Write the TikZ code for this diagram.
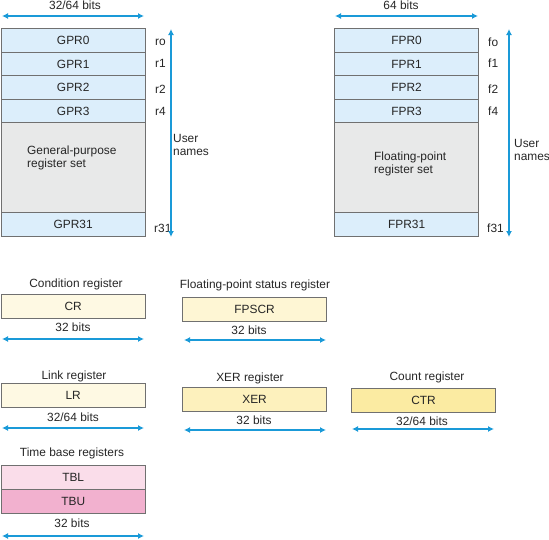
\documentclass[tikz,border=0pt]{standalone}
\usepackage{fontspec}
\setmainfont{Liberation Sans}
\usetikzlibrary{positioning,arrows.meta}
\definecolor{regblue}{HTML}{DCEEFB}
\definecolor{setgray}{HTML}{E8E9E9}
\definecolor{crfill}{HTML}{FEF9E3}
\definecolor{fpscrfill}{HTML}{FEF6D4}
\definecolor{xerfill}{HTML}{FDF1BD}
\definecolor{ctrfill}{HTML}{FBEBA2}
\definecolor{tblfill}{HTML}{FADDEA}
\definecolor{tbufill}{HTML}{F2B1CF}
\definecolor{arrowblue}{HTML}{1A9AD8}
\definecolor{regline}{HTML}{707070}
\definecolor{txt}{HTML}{262626}
\newcommand{\regfont}{\fontsize{11.9}{13.5}\selectfont}

\begin{document}
\begin{tikzpicture}[x=1pt,y=-1pt,text=txt,font=\regfont,
    reg/.style={draw=regline,line width=1.2pt,minimum width=144pt,minimum height=24pt,inner sep=0pt,anchor=north west},
    lbl/.style={inner sep=0pt},
    uname/.style={inner sep=0pt,anchor=west},
    bits/.style={draw=arrowblue,line width=1.3pt,{Latex[length=6pt,width=6pt]}-{Latex[length=6pt,width=6pt]}}]
    \useasboundingbox (0,0) rectangle (549,539);
    % general-purpose registers
    \foreach \i/\y/\h in {0/28/24,1/52/23,2/75/24,3/99/23}
        \node[reg,fill=regblue,minimum height=\h] (gpr\i) at (0.6,\y) {GPR\i};
    \node[reg,fill=setgray,minimum height=90] (gset) at (0.6,122) {};
    \node[lbl,align=left,anchor=west] (gsettxt) at (27,158) {General-purpose\\register set};
    \node[reg,fill=regblue] (gpr31) at (0.6,212) {GPR31};
    \node[uname] (rn0) at (155,42) {ro};
    \node[uname] (rn1) at (155,63) {r1};
    \node[uname] (rn2) at (155,89) {r2};
    \node[uname] (rn4) at (155,111) {r4};
    \node[uname] (rn31) at (154,228) {r31};
    \node[lbl] (gbits) at (75,5) {32/64 bits};
    \coordinate (gl) at (2,16); \coordinate (gr) at (144,16);
    \draw[bits] (gl) -- (gr);
    \coordinate (gt) at (171,29); \coordinate (gb) at (171,237);
    \draw[bits] (gt) -- (gb);
    \node[uname,align=left] (guser) at (173,145) {User\\names};
    % floating-point registers
    \foreach \i/\y/\h in {0/28/24,1/52/23,2/75/24,3/99/23}
        \node[reg,fill=regblue,minimum height=\h] (fpr\i) at (334,\y) {FPR\i};
    \node[reg,fill=setgray,minimum height=90] (fset) at (334,122) {};
    \node[lbl,align=left,anchor=west] (fsettxt) at (374,164) {Floating-point\\register set};
    \node[reg,fill=regblue] (fpr31) at (334,212) {FPR31};
    \node[uname] (fn0) at (488,42) {fo};
    \node[uname] (fn1) at (488,63) {f1};
    \node[uname] (fn2) at (488,89) {f2};
    \node[uname] (fn4) at (488,111) {f4};
    \node[uname] (fn31) at (487,228) {f31};
    \node[lbl] (fbits) at (401,5) {64 bits};
    \coordinate (fl) at (335,16); \coordinate (fr) at (478,16);
    \draw[bits] (fl) -- (fr);
    \coordinate (ft) at (509,29); \coordinate (fb) at (509,237);
    \draw[bits] (ft) -- (fb);
    \node[uname,align=left] (fuser) at (514,150) {User\\names};
    % condition register
    \node[lbl] (crname) at (76,284) {Condition register};
    \node[reg,fill=crfill] (cr) at (0.6,294) {CR};
    \node[lbl] (crbits) at (73,327) {32 bits};
    \coordinate (crl) at (2,339); \coordinate (crr) at (144,339);
    \draw[bits] (crl) -- (crr);
    % fp status register
    \node[lbl] (fpscrname) at (255,285) {Floating-point status register};
    \node[reg,fill=fpscrfill] (fpscr) at (182,297) {FPSCR};
    \node[lbl] (fpscrbits) at (249,330) {32 bits};
    \coordinate (fpscrl) at (184,340); \coordinate (fpscrr) at (326,340);
    \draw[bits] (fpscrl) -- (fpscrr);
    % link register
    \node[lbl] (lrname) at (74,376) {Link register};
    \node[reg,fill=crfill] (lr) at (0.6,383) {LR};
    \node[lbl] (lrbits) at (73,417) {32/64 bits};
    \coordinate (lrl) at (2,428); \coordinate (lrr) at (144,428);
    \draw[bits] (lrl) -- (lrr);
    % xer register
    \node[lbl] (xername) at (250,378) {XER register};
    \node[reg,fill=xerfill] (xer) at (182,387) {XER};
    \node[lbl] (xerbits) at (254,420) {32 bits};
    \coordinate (xerl) at (184,430); \coordinate (xerr) at (326,430);
    \draw[bits] (xerl) -- (xerr);
    % count register
    \node[lbl] (ctrname) at (427,377) {Count register};
    \node[reg,fill=ctrfill] (ctr) at (351,388) {CTR};
    \node[lbl] (ctrbits) at (422,421) {32/64 bits};
    \coordinate (ctrl) at (352,429); \coordinate (ctrr) at (494,429);
    \draw[bits] (ctrl) -- (ctrr);
    % time base registers
    \node[lbl] (tbname) at (72,453) {Time base registers};
    \node[reg,fill=tblfill] (tbl) at (0.6,465) {TBL};
    \node[reg,fill=tbufill] (tbu) at (0.6,489) {TBU};
    \node[lbl] (tbbits) at (72,523) {32 bits};
    \coordinate (tbl-l) at (2,536); \coordinate (tbl-r) at (144,536);
    \draw[bits] (tbl-l) -- (tbl-r);
\end{tikzpicture}
\end{document}
